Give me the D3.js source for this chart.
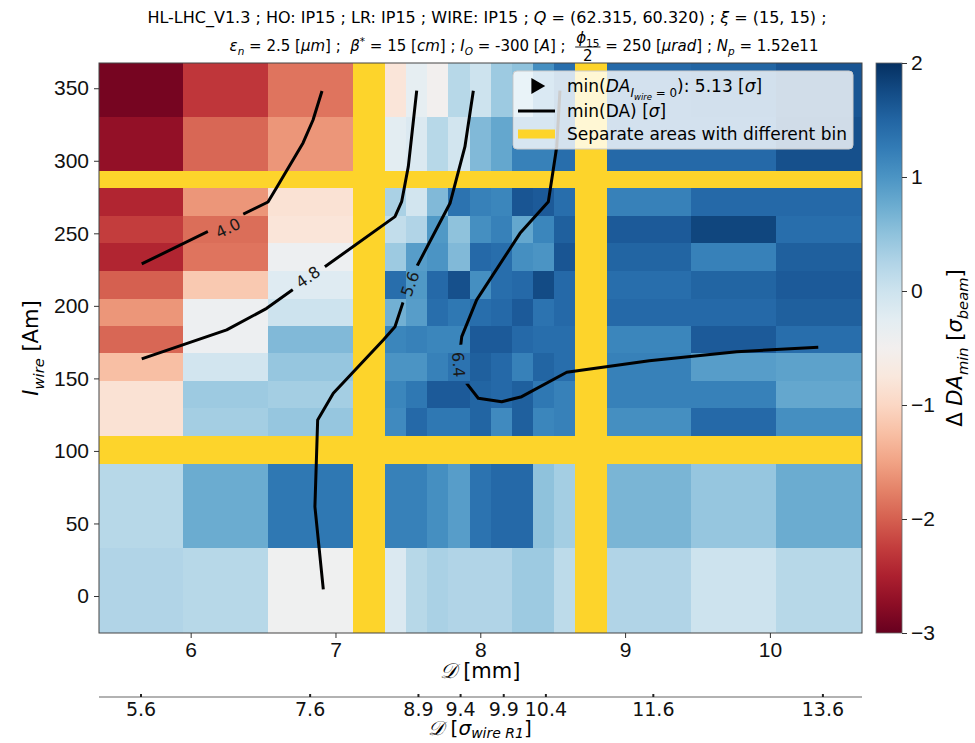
<!DOCTYPE html>
<html>
<head>
<meta charset="utf-8">
<script src="https://cdn.jsdelivr.net/npm/d3@7"></script>
<style>
  body { margin: 0; background: #fff; }
  svg { font-family: "DejaVu Sans", sans-serif; }
  svg text { white-space: pre; }
  .tick text { font-size: 21px; fill: #111; }
  .tick line { stroke: #333; }
</style>
</head>
<body>
<svg id="chart" width="975" height="743"></svg>
<script>

// bin edges (mm) of the three wire-distance areas
const COL_EDGES = [
  [5.367, 5.947, 6.534, 7.122],
  [7.343, 7.489, 7.635, 7.780, 7.926, 8.072, 8.218, 8.364, 8.509, 8.655],
  [8.875, 9.456, 10.043, 10.636]
];
// bin edges (A·m) of the three wire-current areas, top to bottom
const ROW_EDGES = [
  [367.4, 330.2, 293.0],
  [281.3, 262.0, 243.3, 224.0, 204.7, 186.1, 167.5, 148.2, 129.6, 110.3],
  [91.0, 33.1, -25.5]
];
const SEPARATORS_X = [[7.122, 7.343], [8.655, 8.875]];
const SEPARATORS_Y = [[281.3, 293.0], [91.0, 110.3]];

// Delta DA_min per cell, rows top->bottom, cols left->right
const DELTA_DA = [
  [-2.9, -2.3, -1.85, -0.8, -0.3, -0.5, 0.2, 0.0, 0.4, 0.5, 1.05, 1.4, 1.45, 1.5, 1.65],
  [-2.7, -1.95, -1.6, -0.25, -0.15, 0.2, -0.05, 0.6, 0.8, 1.2, 1.2, 1.4, 1.45, 1.45, 1.7],
  [-2.45, -1.6, -0.85, 0.3, -0.05, 0.6, 1.35, 1.2, 1.15, 1.65, 1.6, 1.4, 1.2, 1.45, 1.45],
  [-2.25, -1.9, -0.8, 0.1, 0.25, 0.95, 0.5, 1.05, 1.2, 0.8, 1.15, 1.55, 1.6, 1.8, 1.4],
  [-2.45, -1.85, -0.4, 0.4, 0.9, 1.0, 0.6, 1.45, 1.4, 1.05, 1.0, 1.65, 1.5, 1.2, 1.55],
  [-2.0, -1.15, -0.2, 1.4, 0.95, 1.45, 1.7, 1.05, 1.4, 1.45, 1.75, 1.45, 1.4, 1.5, 1.6],
  [-1.6, -0.4, 0.0, 0.7, 0.9, 1.4, 1.3, 1.4, 1.45, 1.6, 1.35, 1.45, 1.45, 1.45, 1.55],
  [-1.95, -0.4, 0.6, 1.15, 1.2, 1.15, 1.15, 1.6, 1.6, 1.45, 1.4, 1.4, 1.15, 1.6, 1.4],
  [-1.25, -0.05, 0.45, 1.0, 1.0, 1.2, 1.35, 1.55, 1.45, 1.2, 1.5, 1.4, 1.2, 0.9, 0.85],
  [-0.85, 0.4, 0.35, 1.15, 1.3, 1.6, 1.6, 1.5, 1.45, 1.55, 1.3, 1.2, 1.2, 1.2, 0.8],
  [-0.85, 0.35, 0.45, 1.1, 1.45, 1.3, 1.3, 1.5, 1.1, 1.55, 1.15, 1.2, 1.05, 1.45, 1.05],
  [0.2, 0.75, 1.3, 1.2, 1.2, 1.05, 0.9, 1.35, 1.45, 1.45, 0.5, 0.35, 0.65, 0.45, 0.75],
  [0.25, 0.2, -0.45, -0.15, 0.2, 0.3, 0.25, 0.25, 0.25, 0.4, 0.4, 0.15, 0.25, 0.0, 0.2]
];

// min(DA) contour lines, [mm, A·m]
const CONTOURS = [
  {level: "4.0", points: [[5.662, 228.9], [6.534, 271.6], [6.596, 282.0], [6.776, 312.3], [6.845, 328.1], [6.907, 348.1]]},
  {level: "4.8", points: [[5.662, 163.4], [6.249, 183.4], [6.525, 198.3], [7.411, 261.5], [7.457, 271.8], [7.503, 296.0], [7.526, 316.6], [7.561, 348.3]]},
  {level: "5.6", points: [[7.952, 348.3], [7.894, 309.7], [7.791, 270.7], [7.561, 227.0], [7.468, 202.9], [7.411, 185.6], [7.330, 176.5], [6.985, 139.7], [6.877, 121.3], [6.858, 61.6], [6.916, 4.6]]},
  {level: "6.4", points: [[8.550, 348.3], [8.528, 309.7], [8.470, 271.8], [8.274, 250.0], [7.975, 204.1], [7.872, 178.8], [7.853, 162.7], [7.906, 146.6], [7.986, 136.3], [8.148, 133.9], [8.286, 137.4], [8.597, 154.2], [9.167, 162.2], [9.771, 168.4], [10.334, 171.4]]}
];
// inline labels: [mm, A·m, rotation]
const CONTOUR_LABELS = [
  {level: "4.0", at: [6.258, 253.7], rot: -26},
  {level: "4.8", at: [6.810, 219.9], rot: -35},
  {level: "5.6", at: [7.514, 215.1], rot: -70},
  {level: "6.4", at: [7.850, 159.5], rot: 86}
];

const X_TICKS = [6, 7, 8, 9, 10];
const Y_TICKS = [0, 50, 100, 150, 200, 250, 300, 350];
const CB_TICKS = [-3, -2, -1, 0, 1, 2];
// secondary axis: position (mm) and distance in sigma of the wire
const SIGMA_TICKS = [[5.657, "5.6"], [6.825, "7.6"], [7.573, "8.9"], [7.864, "9.4"], [8.162, "9.9"], [8.453, "10.4"], [9.195, "11.6"], [10.366, "13.6"]];

const YELLOW = "#fdd42b";
const MARGIN = {top: 63, right: 113, bottom: 110, left: 99};
const W = 975, H = 743;

let x = d3.scaleLinear().domain([5.367, 10.636]).range([MARGIN.left, W - MARGIN.right]);
let y = d3.scaleLinear().domain([-25.5, 367.4]).range([H - MARGIN.bottom, MARGIN.top]);
let color = d3.scaleSequential(d3.interpolateRdBu).domain([-3, 2]);

let svg = d3.select("#chart");

/*
  Writes a list of styled pieces (italic, sub/superscripts) into a text node.
*/
const rich = (sel, parts, size) => {
  let cur = 0;
  parts.forEach(p => {
    const off = (p.off || 0) * size;
    sel.append("tspan")
       .attr("dy", off - cur)
       .attr("font-size", (p.s || 1) * size)
       .style("font-style", p.i ? "italic" : "normal")
       .text(p.t);
    cur = off;
  });
  return sel;
}
const SUB = 0.28, SUP = -0.4;

/* heatmap cells */
const cols = COL_EDGES.flatMap(e => d3.pairs(e));
const rows = ROW_EDGES.flatMap(e => d3.pairs(e));
const cells = [];
rows.forEach((r, i) => cols.forEach((c, j) => cells.push({r, c, v: DELTA_DA[i][j]})));

svg.append("g")
   .attr("shape-rendering", "crispEdges")
   .selectAll("rect")
   .data(cells).enter()
   .append("rect")
   .attr("x", d => x(d.c[0]))
   .attr("y", d => y(d.r[0]))
   .attr("width", d => x(d.c[1]) - x(d.c[0]))
   .attr("height", d => y(d.r[1]) - y(d.r[0]))
   .attr("fill", d => color(d.v));

/* yellow separators */
let sep = svg.append("g").attr("fill", YELLOW).attr("shape-rendering", "crispEdges");
sep.selectAll(".sx").data(SEPARATORS_X).enter().append("rect")
   .attr("x", d => x(d[0])).attr("width", d => x(d[1]) - x(d[0]))
   .attr("y", MARGIN.top).attr("height", H - MARGIN.bottom - MARGIN.top);
sep.selectAll(".sy").data(SEPARATORS_Y).enter().append("rect")
   .attr("y", d => y(d[1])).attr("height", d => y(d[0]) - y(d[1]))
   .attr("x", MARGIN.left).attr("width", W - MARGIN.right - MARGIN.left);

/* contours with gaps under their labels */
const LABEL_SIZE = 16;
let mask = svg.append("defs").append("mask").attr("id", "gaps");
mask.append("rect").attr("width", W).attr("height", H).attr("fill", "#fff");

let labels = svg.append("g")
  .selectAll("text")
  .data(CONTOUR_LABELS).enter()
  .append("text")
  .attr("transform", d => `translate(${x(d.at[0])},${y(d.at[1])}) rotate(${d.rot})`)
  .attr("text-anchor", "middle")
  .attr("dy", "0.36em")
  .attr("font-size", LABEL_SIZE)
  .attr("fill", "#1a1a1a")
  .text(d => d.level);

labels.each(function(d) {
  const w = this.getComputedTextLength() + 14;
  mask.append("rect")
      .attr("transform", `translate(${x(d.at[0])},${y(d.at[1])}) rotate(${d.rot})`)
      .attr("x", -w / 2).attr("y", -LABEL_SIZE / 2 - 2)
      .attr("width", w).attr("height", LABEL_SIZE + 4)
      .attr("fill", "#000");
});

let line = d3.line().x(d => x(d[0])).y(d => y(d[1]));
svg.append("g")
   .attr("mask", "url(#gaps)")
   .selectAll("path")
   .data(CONTOURS).enter()
   .append("path")
   .attr("d", d => line(d.points))
   .attr("fill", "none")
   .attr("stroke", "#000")
   .attr("stroke-width", 3)
   .attr("stroke-linejoin", "round");

/* frame */
svg.append("rect")
   .attr("x", MARGIN.left).attr("y", MARGIN.top)
   .attr("width", W - MARGIN.right - MARGIN.left)
   .attr("height", H - MARGIN.bottom - MARGIN.top)
   .attr("fill", "none").attr("stroke", "#444").attr("stroke-width", 1);

/* axes */
svg.append("g")
   .attr("transform", `translate(0,${H - MARGIN.bottom})`)
   .call(d3.axisBottom(x).tickValues(X_TICKS).tickSize(5).tickPadding(4).tickFormat(d3.format("d")))
   .call(g => g.select(".domain").remove());

svg.append("g")
   .attr("transform", `translate(${MARGIN.left},0)`)
   .call(d3.axisLeft(y).tickValues(Y_TICKS).tickSize(5).tickPadding(5))
   .call(g => g.select(".domain").remove());

rich(svg.append("text").attr("text-anchor", "middle").attr("x", 480).attr("y", 678),
     [{t: "𝒟", i: true}, {t: " [mm]"}], 21);

rich(svg.append("text").attr("text-anchor", "middle")
        .attr("transform", "translate(38,348) rotate(-90)"),
     [{t: "I", i: true}, {t: "wire", i: true, s: 0.7, off: SUB}, {t: " [Am]"}], 21);

/* secondary axis in units of wire sigma */
const SEC_Y = 697;
let sec = svg.append("g");
sec.append("line")
   .attr("x1", MARGIN.left).attr("x2", W - MARGIN.right)
   .attr("y1", SEC_Y).attr("y2", SEC_Y)
   .attr("stroke", "#999").attr("stroke-width", 1.5);
sec.selectAll(".st").data(SIGMA_TICKS).enter().append("line")
   .attr("x1", d => x(d[0])).attr("x2", d => x(d[0]))
   .attr("y1", SEC_Y - 3).attr("y2", SEC_Y)
   .attr("stroke", "#222").attr("stroke-width", 2);
sec.selectAll(".sl").data(SIGMA_TICKS).enter().append("text")
   .attr("x", d => x(d[0])).attr("y", SEC_Y + 19)
   .attr("text-anchor", "middle").attr("font-size", 19).attr("fill", "#111")
   .text(d => d[1]);

rich(svg.append("text").attr("text-anchor", "middle").attr("x", 480).attr("y", 735),
     [{t: "𝒟", i: true}, {t: " ["}, {t: "σ", i: true}, {t: "wire R1", i: true, s: 0.7, off: 0.15}, {t: "]"}], 20);

/* colorbar */
const CB = {x: 876, w: 26};
let cb = d3.scaleLinear().domain([-3, 2]).range([H - MARGIN.bottom, MARGIN.top]);
let grad = svg.select("defs").append("linearGradient")
              .attr("id", "rdbu").attr("x1", 0).attr("x2", 0).attr("y1", 1).attr("y2", 0);
grad.selectAll("stop").data(d3.range(0, 1.0001, 0.05)).enter().append("stop")
    .attr("offset", d => d)
    .attr("stop-color", d => d3.interpolateRdBu(d));

svg.append("rect")
   .attr("x", CB.x).attr("y", MARGIN.top)
   .attr("width", CB.w).attr("height", H - MARGIN.bottom - MARGIN.top)
   .attr("fill", "url(#rdbu)").attr("stroke", "#666").attr("stroke-width", 0.8);

svg.append("g")
   .attr("transform", `translate(${CB.x + CB.w},0)`)
   .call(d3.axisRight(cb).tickValues(CB_TICKS).tickSize(5).tickPadding(4)
           .tickFormat(d => d < 0 ? "\u2212" + Math.abs(d) : d))
   .call(g => g.select(".domain").remove());

rich(svg.append("text").attr("text-anchor", "middle")
        .attr("transform", "translate(962,348) rotate(-90)"),
     [{t: "Δ "}, {t: "DA", i: true}, {t: "min", i: true, s: 0.7, off: SUB}, {t: " ["},
      {t: "σ", i: true}, {t: "beam", i: true, s: 0.7, off: SUB}, {t: "]"}], 21);

/* legend */
let leg = svg.append("g").attr("transform", "translate(513,71)");
leg.append("rect")
   .attr("width", 340).attr("height", 78).attr("rx", 4)
   .attr("fill", "#fff").attr("fill-opacity", 0.8)
   .attr("stroke", "#ccc");
leg.append("path")
   .attr("d", d3.symbol(d3.symbolTriangle, 110)())
   .attr("transform", "translate(23,15) rotate(90)")
   .attr("fill", "#000");
leg.append("line").attr("x1", 5).attr("x2", 42).attr("y1", 40).attr("y2", 40)
   .attr("stroke", "#000").attr("stroke-width", 3);
leg.append("line").attr("x1", 5).attr("x2", 42).attr("y1", 63).attr("y2", 63)
   .attr("stroke", YELLOW).attr("stroke-width", 9);

const LEG_SIZE = 17;
rich(leg.append("text").attr("x", 54).attr("y", 21),
     [{t: "min("}, {t: "DA", i: true}, {t: "I", i: true, s: 0.7, off: 0.28},
      {t: "wire", i: true, s: 0.5, off: 0.45}, {t: " = 0", s: 0.7, off: 0.28},
      {t: "): 5.13 ["}, {t: "σ", i: true}, {t: "]"}], LEG_SIZE);
rich(leg.append("text").attr("x", 54).attr("y", 46),
     [{t: "min(DA) ["}, {t: "σ", i: true}, {t: "]"}], LEG_SIZE);
leg.append("text").attr("x", 54).attr("y", 69).attr("font-size", LEG_SIZE)
   .text("Separate areas with different bin");

/* title */
const T = 16, T2 = 15;
rich(svg.append("text").attr("text-anchor", "middle").attr("x", 487).attr("y", 23),
     [{t: "HL-LHC_V1.3 ; HO: IP15 ; LR: IP15 ; WIRE: IP15 ; "}, {t: "Q", i: true},
      {t: " = (62.315, 60.320) ; "}, {t: "ξ", i: true}, {t: " = (15, 15) ;"}], T);

let t2 = svg.append("g");
let partA = rich(t2.append("text").attr("y", 51),
     [{t: "ε", i: true}, {t: "n", i: true, s: 0.7, off: SUB}, {t: " = 2.5 ["}, {t: "μm", i: true},
      {t: "] ;  "}, {t: "β", i: true}, {t: "*", s: 0.7, off: SUP}, {t: " = 15 ["}, {t: "cm", i: true},
      {t: "] ; "}, {t: "I", i: true}, {t: "O", i: true, s: 0.7, off: SUB}, {t: " = -300 ["},
      {t: "A", i: true}, {t: "] ;  "}], T2);
let num = rich(t2.append("text").attr("y", 43).attr("text-anchor", "middle"),
     [{t: "ϕ", i: true}, {t: "15", s: 0.7, off: SUB}], T2);
let den = t2.append("text").attr("y", 61).attr("text-anchor", "middle").attr("font-size", T2).text("2");
let partB = rich(t2.append("text").attr("y", 51),
     [{t: " = 250 ["}, {t: "μrad", i: true}, {t: "] ; "}, {t: "N", i: true},
      {t: "p", i: true, s: 0.7, off: SUB}, {t: " = 1.52e11"}], T2);

const wA = partA.node().getComputedTextLength();
const wN = num.node().getComputedTextLength() + 2;
const wB = partB.node().getComputedTextLength();
const x0 = 524 - (wA + wN + wB) / 2;
partA.attr("x", x0);
num.attr("x", x0 + wA + wN / 2);
den.attr("x", x0 + wA + wN / 2);
t2.append("line")
  .attr("x1", x0 + wA).attr("x2", x0 + wA + wN)
  .attr("y1", 47).attr("y2", 47)
  .attr("stroke", "#000").attr("stroke-width", 0.9);
partB.attr("x", x0 + wA + wN);

</script>
</body>
</html>
